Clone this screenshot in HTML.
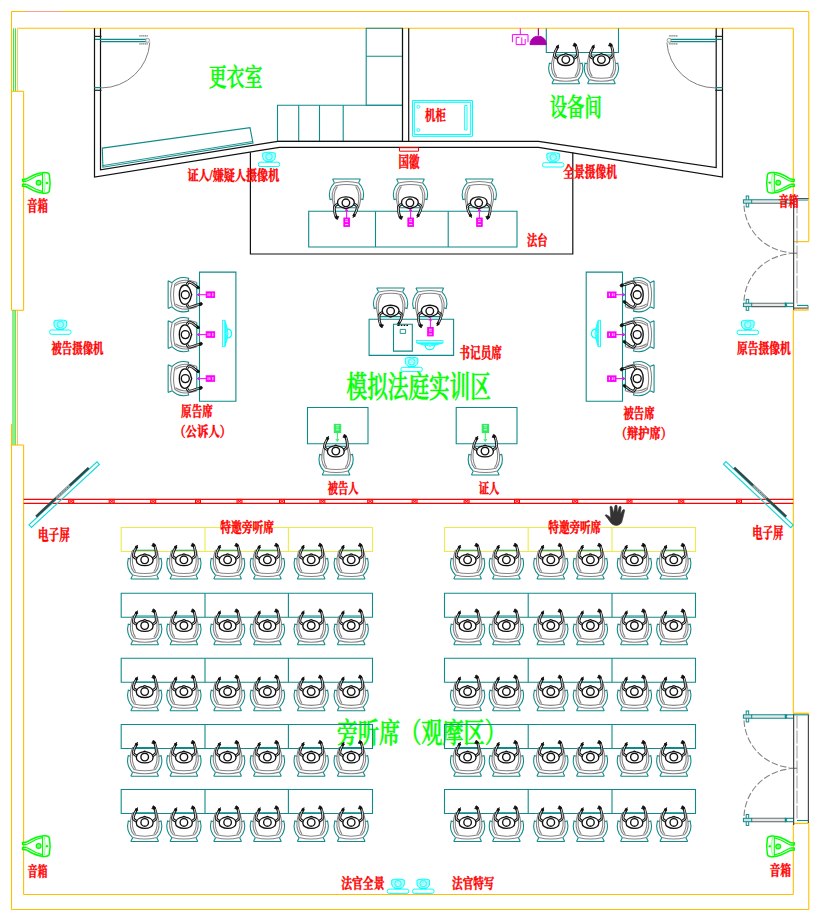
<!DOCTYPE html>
<html><head><meta charset="utf-8"><title>模拟法庭平面图</title>
<style>html,body{margin:0;padding:0;background:#fff;font-family:"Liberation Sans",sans-serif}body{width:820px;height:920px;overflow:hidden}
.tb{font-family:"Liberation Serif","Noto Serif CJK SC",serif;font-weight:bold;fill:#FF0000;stroke:#FF0000;stroke-width:0.4;stroke-linejoin:round}
.tm{font-family:"Liberation Serif","Noto Serif CJK SC",serif;font-weight:500;fill:#00FF00;stroke:#00FF00;stroke-width:0.6;stroke-linejoin:round}</style>
</head><body>
<svg width="820" height="920" viewBox="0 0 820 920" fill="none" style="display:block">
<defs>
<g id="chair" fill="none" stroke-width="1.12" transform="scale(0.965)">
 <path d="M-14.4,15H14.4M-14.4,15L-12.5,11M14.4,15L12.5,11M-12.5,11C-16.5,7 -19,1 -17,-6.3L-14.2,-5.6M12.5,11C16.5,7 19,1 17,-6.3L14.2,-5.6M-12.6,-14.7H12.6" stroke="#0F8A8A"/>
 <path d="M-12.4,10.8Q0,14 12.4,10.8M-11.2,8Q0,10.8 11.2,8M-11,8.2C-15.6,3 -15.6,-5 -13.4,-12.5L-12.6,-14.7M11,8.2C15.6,3 15.6,-5 13.4,-12.5L12.6,-14.7M-9.5,7.4C-13.3,2 -13.3,-6 -11.8,-12.5M9.5,7.4C13.3,2 13.3,-6 11.8,-12.5" stroke="#858585" stroke-width="1.1"/>
</g>
<g id="body" fill="none" stroke="#111" stroke-width="1.35">
 <path d="M-8.4,0.5C-8.4,-2.4 -5.2,-4.6 -1.8,-5.2L0,-5.9L1.8,-5.2C5.2,-4.6 8.4,-2.4 8.4,0.5C8.4,3.9 4.6,5.9 0,5.9C-4.6,5.9 -8.4,3.9 -8.4,0.5Z" fill="#fff"/>
 <circle r="3.8" fill="#fff"/>
</g>
<g id="personA">
 <g fill="none" stroke="#111" stroke-width="2.7" stroke-linecap="round" stroke-linejoin="round">
  <path d="M7.6,-1C9.8,-2 11.6,-3 11.6,-5.2C11.6,-8 11.2,-11 9.9,-14.2"/>
  <path d="M-7.6,-1C-9.6,-1.8 -11.5,-2.6 -11.4,-4.6C-11.1,-7 -10,-9.5 -8.3,-12.4"/>
 </g>
 <g fill="none" stroke="#fff" stroke-width="0.85" stroke-linecap="round" stroke-linejoin="round">
  <path d="M7.6,-1C9.8,-2 11.6,-3 11.6,-5.2C11.6,-8 11.2,-11 10.3,-13.4"/>
  <path d="M-7.6,-1C-9.6,-1.8 -11.5,-2.6 -11.4,-4.6C-11.1,-7 -10,-9.5 -8.8,-11.7"/>
 </g>
 <path d="M8.4,-16.6l1.5,0.7l0.8,1.8l-1,0.3l0.2,0.9l-1.8,-0.7l-1,-0.2l0.7,-1.2z M-7.2,-14.8l-0.7,1l-1.4,0.3l0.6,0.9l-0.7,1l1.5,0l1,-0.7l-0.5,-1z" fill="#111" stroke="#111" stroke-width="0.8" stroke-linejoin="round"/>
 <use href="#body"/>
</g>
<g id="personB">
 <g fill="none" stroke="#111" stroke-width="2.7" stroke-linecap="round" stroke-linejoin="round">
  <path d="M-9.2,-1.4C-11.5,-2.2 -12.9,-3 -12.5,-4.6C-11.8,-6.6 -10.5,-8.6 -9.2,-10L-7.6,-12"/>
  <path d="M9,-1.4C11.5,-2.2 12.9,-3 12.5,-4.6C12,-7 11.2,-9 10.6,-10.5L9.7,-14.4"/>
 </g>
 <g fill="none" stroke="#fff" stroke-width="0.85" stroke-linecap="round" stroke-linejoin="round">
  <path d="M-9.2,-1.4C-11.5,-2.2 -12.9,-3 -12.5,-4.6C-11.8,-6.6 -10.5,-8.6 -9.2,-10L-8.2,-11.2"/>
  <path d="M9,-1.4C11.5,-2.2 12.9,-3 12.5,-4.6C12,-7 11.2,-9 10.6,-10.5L10,-13.4"/>
 </g>
 <path d="M9.2,-17.2l1.3,0.8l0.5,1.5l-0.8,0.8l-1.6,0.1l-0.9,-1.2l0.3,-1.4z M-6.4,-14.2l-1.4,0.2l-0.9,1.2l0.6,1.1l1.5,0.1l0.9,-1.1z" fill="#111" stroke="#111" stroke-width="0.7"/>
 <g fill="none" stroke="#111" stroke-width="1.35">
  <path d="M-9.7,0.4C-9.7,-2.8 -5.6,-5.2 -1.6,-5.8L0,-6.4L1.6,-5.8C5.6,-5.2 9.7,-2.8 9.7,0.4C9.7,3.9 5.2,6 0,6C-5.2,6 -9.7,3.9 -9.7,0.4Z" fill="#fff"/>
  <circle r="4" fill="#fff"/>
 </g>
</g>
<g id="cam" fill="none" stroke="#00FFFF" stroke-width="1">
 <rect x="-10.7" y="-4.5" width="21.4" height="4.3" rx="1.8" fill="#fff"/>
 <path d="M-6.3,-13.5C-3,-14.8 3,-14.8 6.3,-13.5L6.3,-9.6C6.1,-6.6 3.5,-5.2 0,-5.2C-3.5,-5.2 -6.1,-6.6 -6.3,-9.6Z" fill="#B0FFFF"/>
 <circle cx="0" cy="-10" r="3.3" fill="#8FF" stroke-width="0.8" stroke="#3EE"/>
 <path d="M-1.6,-10.8l1.2,1.2M0.8,-11l1.2,0.8M-1,-8.4h2.2" stroke="#fff" stroke-width="0.9"/>
 <path d="M-3.6,-5H3.6" stroke-width="1.1"/>
</g>
<g id="spk" fill="none" stroke="#00FF00" stroke-width="1.5" stroke-linejoin="round" stroke-linecap="round">
 <path d="M0.6,-3.4L4,-3.7C9,-6.2 13,-9.3 20,-10C24,-10.5 27,-10 27.4,-8C28.1,-4 28.1,4 27.4,8C27,10.2 24,10.7 20,10.2C13,9.5 9,6.4 4,3.7L0.6,3.4"/>
 <path d="M0.6,-3.4V-1.5H4M0.6,3.4V1.5H4" stroke-width="1.5"/>
 <path d="M20.5,-9.6V9.8" stroke-width="1.1"/>
 <path d="M5,-1.8C9,-3.5 12,-5.5 14,-6.5L20,-8.4M5,1.8C9,3.5 12,5.5 14,6.5L20,8.6" stroke-width="1.2"/>
 <circle cx="16.6" cy="0" r="2.4" fill="#7F7" stroke-width="1.2"/>
 <circle cx="24.9" cy="0.2" r="0.9" fill="#00FF00" stroke-width="0.8"/>
 <path d="M22.4,-8.6C23.4,-4 23.4,4 22.4,8.8" stroke-width="0.8" stroke="#6F6"/>
</g>
<g id="mic" fill="none" stroke="#FF00FF" stroke-width="1">
 <path d="M0,0.2V9.2M-1.3,2.2L0,0L1.3,2.2" />
 <rect x="-2.7" y="9" width="5.5" height="8.4" fill="#FF00FF"/>
 <path d="M-1.4,10.8H1.4M-1.4,12.6H1.4" stroke="#fff" stroke-width="0.8"/>
 <path d="M-1.6,15.6H1.6" stroke="#fff" stroke-width="0.9"/>
</g>
<g id="micg" fill="none" stroke="#33EE66" stroke-width="1">
 <path d="M0,0V-8.6M-1.4,-2.4L0,0L1.4,-2.4" />
 <rect x="-3.1" y="-17" width="6.4" height="8.2" fill="#2CEB5C" stroke="#2CEB5C"/>
 <path d="M-1.6,-15.6H1.8M-1.6,-11.6H1.8" stroke="#fff" stroke-width="0.8"/>
 <path d="M-1.2,-13.6H1.4" stroke="#bfffd0" stroke-width="0.8"/>
</g>
<g id="mon" fill="none" stroke="#00FFFF" stroke-width="0.9">
 <path d="M-12.8,2.4Q0,8 12.8,2.4Z" fill="#3FF" stroke-width="0.7"/>
 <rect x="-13.2" y="0" width="26.4" height="2.2" fill="#fff"/>
 <path d="M-4.7,4.6C-4.4,7.4 -2.4,9 0,9C2.4,9 4.4,7.4 4.7,4.6" stroke-width="1.2"/>
 <circle cx="0" cy="4.6" r="1.6" fill="#5FF" stroke="none"/>
</g>
</defs>
<rect width="820" height="920" fill="#fff"/>
<path d="M11.5,11.5L808.8,11.5" stroke="#FFBF00" stroke-width="1.1" />
<path d="M25,11.5L62,11.5" stroke="#FF9C8C" stroke-width="1.1" />
<path d="M17.5,28.3L793.3,28.3" stroke="#FFBF00" stroke-width="1.1" />
<path d="M11.5,11.5L11.5,310" stroke="#FFBF00" stroke-width="1.1" />
<path d="M17.6,28.3L17.6,91.3" stroke="#E8D060" stroke-width="1" />
<path d="M13.6,28.3L13.6,91.3" stroke="#30E030" stroke-width="1" />
<path d="M15.6,28.3L15.6,91.3" stroke="#30E030" stroke-width="1" />
<path d="M12,91.3L23.6,91.3" stroke="#FFBF00" stroke-width="1.1" />
<path d="M23.6,91.3L23.6,310.3" stroke="#FFBF00" stroke-width="1.1" />
<path d="M11.5,310.3L23.6,310.3" stroke="#FFBF00" stroke-width="1.1" />
<path d="M13,310.3L13,445" stroke="#30E030" stroke-width="1.1" />
<path d="M15.1,310.3L15.1,445" stroke="#30E030" stroke-width="1.3" />
<path d="M17.4,310.3L17.4,445" stroke="#E8CC60" stroke-width="1.1" />
<path d="M11.5,424L11.5,445" stroke="#FFBF00" stroke-width="1.1" />
<path d="M11.5,445L23.6,445" stroke="#FFBF00" stroke-width="1.1" />
<path d="M11.5,445L11.5,909.5" stroke="#FFBF00" stroke-width="1.1" />
<path d="M23.6,445L23.6,894.5" stroke="#FFBF00" stroke-width="1.1" />
<path d="M23.6,894.5L793.3,894.5" stroke="#FFBF00" stroke-width="1.1" />
<path d="M11.5,909.5L808.8,909.5" stroke="#FFBF00" stroke-width="1.1" />
<path d="M808.8,11.5L808.8,241.6" stroke="#FFBF00" stroke-width="1.1" />
<path d="M793.3,28.3L793.3,198.5" stroke="#FFBF00" stroke-width="1.1" />
<path d="M793.3,241.6L808.8,241.6" stroke="#FFBF00" stroke-width="1.1" />
<path d="M793.3,310L808.8,310" stroke="#FFBF00" stroke-width="1.3" />
<path d="M793.3,310L793.3,713.3" stroke="#FFBF00" stroke-width="1.1" />
<path d="M793.3,713.3L808.8,713.3" stroke="#FFBF00" stroke-width="1.3" />
<path d="M808.8,823.4L808.8,909.5" stroke="#FFBF00" stroke-width="1.1" />
<path d="M808.8,713.3L808.8,716" stroke="#FFBF00" stroke-width="1.1" />
<path d="M793.3,823.4L808.8,823.4" stroke="#FFBF00" stroke-width="1.3" />
<path d="M793.3,823.4L793.3,894.5" stroke="#FFBF00" stroke-width="1.1" />
<path d="M366.2,28.3L402.5,28.3L402.5,105.2L366.2,105.2Z" stroke="#0F8A8A" stroke-width="1.1" />
<path d="M366.2,56.3L402.5,56.3" stroke="#0F8A8A" stroke-width="1.1" />
<path d="M277.5,105.2L402.5,105.2L402.5,141.3L277.5,141.3Z" stroke="#0F8A8A" stroke-width="1.1" />
<path d="M298.7,105.2L298.7,141.3" stroke="#0F8A8A" stroke-width="1.1" />
<path d="M319.5,105.2L319.5,141.3" stroke="#0F8A8A" stroke-width="1.1" />
<path d="M343.2,105.2L343.2,141.3" stroke="#0F8A8A" stroke-width="1.1" />
<path d="M102.3,148.1L250,127.7L253,143.1L102.9,167.2Z" stroke="#0F8A8A" stroke-width="1.1" />
<path d="M102.7,165.6L252.7,141.5" stroke="#0F8A8A" stroke-width="0.9" />
<path d="M94.5,28.3L94.5,177L279.5,147.4L538.5,147.4L722.5,177L722.5,28.3" stroke="#111" stroke-width="1.2" />
<path d="M100.5,28.3L100.5,169.8L277.7,141.4L538.5,141.4L716.2,167.5L716.2,28.3" stroke="#111" stroke-width="1.2" />
<path d="M402.5,28.3L402.5,141.3" stroke="#111" stroke-width="1.2" />
<path d="M408.7,28.3L408.7,141.3" stroke="#111" stroke-width="1.2" />
<path d="M250.4,152.2L250.4,254L572.8,254L572.8,152.6" stroke="#111" stroke-width="1.2" />
<path d="M95,39.45L146.8,39.45" stroke="#0F8A8A" stroke-width="1.2" />
<path d="M100.5,41.6L146.8,41.6" stroke="#0F8A8A" stroke-width="1.1" />
<path d="M139.3,35.9L147.8,35.9M139.3,43.9L147.8,43.9" stroke="#777" stroke-width="1.1" stroke-dasharray="1.4,0.5"/>
<circle cx="147.6" cy="40.4" r="2" stroke="#9a9a9a" stroke-width="0.9" fill="#eef4f4"/>
<path d="M149.8,42.5A48.5,48.5 0 0 1 101.5,87.9" stroke="#808080" stroke-width="1.0" />
<path d="M94.3,36.4L101.5,36.4" stroke="#222" stroke-width="1.2" />
<path d="M94.3,87.6L101.5,87.6" stroke="#0F8A8A" stroke-width="1.2" />
<path d="M94.3,90.3L101.5,90.3" stroke="#222" stroke-width="1.2" />
<path d="M721.7,39.45L669.9,39.45" stroke="#0F8A8A" stroke-width="1.2" />
<path d="M716.2,41.6L669.9,41.6" stroke="#0F8A8A" stroke-width="1.1" />
<path d="M677.4,35.9L668.9,35.9M677.4,43.9L668.9,43.9" stroke="#777" stroke-width="1.1" stroke-dasharray="1.4,0.5"/>
<circle cx="669.1" cy="40.4" r="2" stroke="#9a9a9a" stroke-width="0.9" fill="#eef4f4"/>
<path d="M666.9,42.5A48.5,48.5 0 0 0 715.2,87.9" stroke="#808080" stroke-width="1.0" />
<path d="M715.2,36.4L722.4,36.4" stroke="#222" stroke-width="1.2" />
<path d="M715.2,87.6L722.4,87.6" stroke="#0F8A8A" stroke-width="1.2" />
<path d="M715.2,90.3L722.4,90.3" stroke="#222" stroke-width="1.2" />
<path d="M412.5,100.5L472.5,100.5L472.5,136.3L412.5,136.3Z" stroke="#00FFFF" stroke-width="1.0" />
<path d="M414.3,102.3L470.7,102.3L470.7,134.5L414.3,134.5Z" stroke="#00FFFF" stroke-width="1.0" />
<path d="M464.6,105.5L467,105.5L467,130L464.6,130Z" stroke="#00FFFF" stroke-width="0.9" />
<circle cx="418.3" cy="106.8" r="1.5" stroke="#00FFFF" stroke-width="0.9"/>
<circle cx="418.3" cy="130" r="1.5" stroke="#00FFFF" stroke-width="0.9"/>
<text class="tb" x="425.12" y="120.23" font-size="13.79" textLength="20.72" lengthAdjust="spacingAndGlyphs">机柜</text>
<path d="M399.5,147.7L418.5,147.7L418.5,151.2L399.5,151.2Z" stroke="#FF0000" stroke-width="1.0" />
<text class="tb" x="398.53" y="167.17" font-size="14.54" textLength="20.96" lengthAdjust="spacingAndGlyphs">国徽</text>
<path d="M546.3,28.3L546.3,52.5L618.5,52.5L618.5,28.3" stroke="#0F8A8A" stroke-width="1.1" />
<use href="#chair" transform="translate(565.8,69.2)" />
<use href="#personA" transform="translate(565.8,59.6)" />
<use href="#chair" transform="translate(601.4,69.2)" />
<use href="#personA" transform="translate(601.4,59.6)" />
<path d="M520.3,28.3V34.6M512.4,42.2V34.6H528V42.2M516.2,37.4V44.6H525.2M521.8,37.4V44.6M516.2,37.4H519.5M525.2,39V44.6" stroke="#FF00FF" stroke-width="1.0" />
<path d="M538.4,28.3V35.6" stroke="#AA00AA" stroke-width="1.2" />
<path d="M530,44.6C530.3,39 534,36.2 538.2,36.2C542.5,36.2 546,39 546.3,44.6Z" stroke="#AA00AA" stroke-width="1" fill="#AA00AA"/>
<text class="tm" x="549.65" y="116.36" font-size="24.69" textLength="52.17" lengthAdjust="spacingAndGlyphs">设备间</text>
<text class="tm" x="208.65" y="86.44" font-size="24.48" textLength="53.76" lengthAdjust="spacingAndGlyphs">更衣室</text>
<use href="#cam" transform="translate(269,166.7)" />
<text class="tb" x="187.44" y="180.14" font-size="13.78" textLength="91.81" lengthAdjust="spacingAndGlyphs">证人/嫌疑人摄像机</text>
<use href="#cam" transform="translate(553.2,167.2)" />
<text class="tb" x="563.35" y="176.96" font-size="14.37" textLength="53.5" lengthAdjust="spacingAndGlyphs">全景摄像机</text>
<path d="M308.7,211.3L517,211.3L517,247L308.7,247Z" stroke="#0F8A8A" stroke-width="1.1" />
<path d="M375.5,211.3L375.5,247" stroke="#0F8A8A" stroke-width="1.1" />
<path d="M448.2,211.3L448.2,247" stroke="#0F8A8A" stroke-width="1.1" />
<use href="#chair" transform="translate(346.5,193.5) rotate(180)" />
<use href="#personA" transform="translate(345.9,202.8) rotate(180)" />
<use href="#mic" transform="translate(346.6,209)" />
<use href="#chair" transform="translate(410.5,193.5) rotate(180)" />
<use href="#personA" transform="translate(409.9,202.8) rotate(180)" />
<use href="#mic" transform="translate(410.6,209)" />
<use href="#chair" transform="translate(479.3,193.5) rotate(180)" />
<use href="#personA" transform="translate(478.7,202.8) scale(1,-1)"/>
<use href="#mic" transform="translate(479.4,209)" />
<text class="tb" x="527.06" y="244.56" font-size="13.81" textLength="20.48" lengthAdjust="spacingAndGlyphs">法台</text>
<path d="M199.5,272.1L235.9,272.1L235.9,401.2L199.5,401.2Z" stroke="#0F8A8A" stroke-width="1.1" />
<use href="#chair" transform="translate(182.6,294.7) rotate(90)" />
<use href="#personB" transform="translate(185.3,294.7) rotate(90)" />
<use href="#mic" transform="translate(197.2,294.7) rotate(-90)" />
<use href="#chair" transform="translate(182.6,334.6) rotate(90)" />
<use href="#personB" transform="translate(185.3,334.6) rotate(90)" />
<use href="#mic" transform="translate(197.2,334.6) rotate(-90)" />
<use href="#chair" transform="translate(182.6,378.6) rotate(90)" />
<use href="#personB" transform="translate(185.3,378.6) rotate(90)" />
<use href="#mic" transform="translate(197.2,378.6) rotate(-90)" />
<use href="#mon" transform="translate(222.6,333.5) rotate(-90)" />
<text class="tb" x="181.09" y="415.85" font-size="13.79" textLength="31.65" lengthAdjust="spacingAndGlyphs">原告席</text>
<text class="tb" x="174.19" y="435.65" font-size="13.99" textLength="57" lengthAdjust="spacingAndGlyphs">（公诉人）</text>
<path d="M586.2,272.1L622.5,272.1L622.5,401.2L586.2,401.2Z" stroke="#0F8A8A" stroke-width="1.1" />
<use href="#chair" transform="translate(639.6,294.7) rotate(-90)" />
<use href="#personB" transform="translate(637.2,294.7) rotate(-90)" />
<use href="#mic" transform="translate(625,294.7) rotate(90)" />
<use href="#chair" transform="translate(639.6,334.6) rotate(-90)" />
<use href="#personB" transform="translate(637.2,334.6) rotate(-90)" />
<use href="#mic" transform="translate(625,334.6) rotate(90)" />
<use href="#chair" transform="translate(639.6,378.6) rotate(-90)" />
<use href="#personB" transform="translate(637.2,378.6) rotate(-90)" />
<use href="#mic" transform="translate(625,378.6) rotate(90)" />
<use href="#mon" transform="translate(600.5,333.5) rotate(90)" />
<text class="tb" x="623.42" y="418.12" font-size="13.99" textLength="31.14" lengthAdjust="spacingAndGlyphs">被告席</text>
<text class="tb" x="615.78" y="437.62" font-size="13.92" textLength="56.25" lengthAdjust="spacingAndGlyphs">（辩护席）</text>
<path d="M369.1,319.2L453.6,319.2L453.6,355.4L369.1,355.4Z" stroke="#0F8A8A" stroke-width="1.1" />
<use href="#chair" transform="translate(390.6,302.4) rotate(180)" />
<use href="#personA" transform="translate(390.6,311.1) rotate(180)" />
<use href="#chair" transform="translate(429.8,302.4) rotate(180)" />
<use href="#personA" transform="translate(429.8,311.1) rotate(180)" />
<use href="#mic" transform="translate(430.4,318.5)" />
<path d="M393.5,324.3L412.3,324.3L412.3,351.1L393.5,351.1Z" stroke="#0F8A8A" stroke-width="1.1" />
<path d="M400.2,329.4L405.6,329.4L405.6,333.4L400.2,333.4Z" stroke="#0F8A8A" stroke-width="0.9" />
<path d="M398,325.4H408" stroke="#111" stroke-width="1.4" stroke-dasharray="1.6,1.2"/>
<use href="#mon" transform="translate(429.8,340.6)" />
<use href="#cam" transform="translate(411.6,371.8)" />
<text class="tb" x="459.33" y="357.8" font-size="14.3" textLength="42.6" lengthAdjust="spacingAndGlyphs">书记员席</text>
<text class="tm" x="346.61" y="397.01" font-size="29.31" textLength="144.13" lengthAdjust="spacingAndGlyphs">模拟法庭实训区</text>
<use href="#cam" transform="translate(60.3,334.5)" />
<text class="tb" x="51.42" y="352.74" font-size="13.78" textLength="52.1" lengthAdjust="spacingAndGlyphs">被告摄像机</text>
<use href="#cam" transform="translate(747.8,334.7)" />
<text class="tb" x="737.1" y="352.74" font-size="13.78" textLength="53.75" lengthAdjust="spacingAndGlyphs">原告摄像机</text>
<path d="M307.5,407.5L368,407.5L368,443.7L307.5,443.7Z" stroke="#0F8A8A" stroke-width="1.1" />
<use href="#chair" transform="translate(336.1,460.5)" />
<use href="#personA" transform="translate(335.8,451)" />
<use href="#micg" transform="translate(337.4,441.4)" />
<text class="tb" x="327.72" y="493.25" font-size="13.79" textLength="30.87" lengthAdjust="spacingAndGlyphs">被告人</text>
<path d="M456.2,407.5L517,407.5L517,443.7L456.2,443.7Z" stroke="#0F8A8A" stroke-width="1.1" />
<use href="#chair" transform="translate(485.3,460.5)" />
<use href="#personA" transform="translate(485,451)" />
<use href="#micg" transform="translate(485.3,441.4)" />
<text class="tb" x="478.83" y="493.26" font-size="14" textLength="20.56" lengthAdjust="spacingAndGlyphs">证人</text>
<path d="M23.6,499.4L793.3,499.4" stroke="#FF0000" stroke-width="1.15" />
<path d="M23.6,503.4L793.3,503.4" stroke="#FF0000" stroke-width="1.15" />
<path d="M68.7,499.4L73.7,499.4L73.7,503.4L68.7,503.4Z" stroke="#FF0000" stroke-width="1.0" fill="#FFB0B0"/>
<path d="M68.8,499.4L73.6,503.4M73.6,499.4L68.8,503.4" stroke="#FF0000" stroke-width="0.9" />
<path d="M109.2,499.4L114.2,499.4L114.2,503.4L109.2,503.4Z" stroke="#FF0000" stroke-width="1.0" fill="#FFB0B0"/>
<path d="M109.3,499.4L114.1,503.4M114.1,499.4L109.3,503.4" stroke="#FF0000" stroke-width="0.9" />
<path d="M150.7,499.4L155.7,499.4L155.7,503.4L150.7,503.4Z" stroke="#FF0000" stroke-width="1.0" fill="#FFB0B0"/>
<path d="M150.8,499.4L155.6,503.4M155.6,499.4L150.8,503.4" stroke="#FF0000" stroke-width="0.9" />
<path d="M195.5,499.4L200.5,499.4L200.5,503.4L195.5,503.4Z" stroke="#FF0000" stroke-width="1.0" fill="#FFB0B0"/>
<path d="M195.6,499.4L200.4,503.4M200.4,499.4L195.6,503.4" stroke="#FF0000" stroke-width="0.9" />
<path d="M237,499.4L242,499.4L242,503.4L237,503.4Z" stroke="#FF0000" stroke-width="1.0" fill="#FFB0B0"/>
<path d="M237.1,499.4L241.9,503.4M241.9,499.4L237.1,503.4" stroke="#FF0000" stroke-width="0.9" />
<path d="M279.5,499.4L284.5,499.4L284.5,503.4L279.5,503.4Z" stroke="#FF0000" stroke-width="1.0" fill="#FFB0B0"/>
<path d="M279.6,499.4L284.4,503.4M284.4,499.4L279.6,503.4" stroke="#FF0000" stroke-width="0.9" />
<path d="M319.9,499.4L324.9,499.4L324.9,503.4L319.9,503.4Z" stroke="#FF0000" stroke-width="1.0" fill="#FFB0B0"/>
<path d="M320,499.4L324.8,503.4M324.8,499.4L320,503.4" stroke="#FF0000" stroke-width="0.9" />
<path d="M367.7,499.4L372.7,499.4L372.7,503.4L367.7,503.4Z" stroke="#FF0000" stroke-width="1.0" fill="#FFB0B0"/>
<path d="M367.8,499.4L372.6,503.4M372.6,499.4L367.8,503.4" stroke="#FF0000" stroke-width="0.9" />
<path d="M412.1,499.4L417.1,499.4L417.1,503.4L412.1,503.4Z" stroke="#FF0000" stroke-width="1.0" fill="#FFB0B0"/>
<path d="M412.2,499.4L417,503.4M417,499.4L412.2,503.4" stroke="#FF0000" stroke-width="0.9" />
<path d="M464.1,499.4L469.1,499.4L469.1,503.4L464.1,503.4Z" stroke="#FF0000" stroke-width="1.0" fill="#FFB0B0"/>
<path d="M464.2,499.4L469,503.4M469,499.4L464.2,503.4" stroke="#FF0000" stroke-width="0.9" />
<path d="M514.5,499.4L519.5,499.4L519.5,503.4L514.5,503.4Z" stroke="#FF0000" stroke-width="1.0" fill="#FFB0B0"/>
<path d="M514.6,499.4L519.4,503.4M519.4,499.4L514.6,503.4" stroke="#FF0000" stroke-width="0.9" />
<path d="M572.7,499.4L577.7,499.4L577.7,503.4L572.7,503.4Z" stroke="#FF0000" stroke-width="1.0" fill="#FFB0B0"/>
<path d="M572.8,499.4L577.6,503.4M577.6,499.4L572.8,503.4" stroke="#FF0000" stroke-width="0.9" />
<path d="M627,499.4L632,499.4L632,503.4L627,503.4Z" stroke="#FF0000" stroke-width="1.0" fill="#FFB0B0"/>
<path d="M627.1,499.4L631.9,503.4M631.9,499.4L627.1,503.4" stroke="#FF0000" stroke-width="0.9" />
<path d="M678.8,499.4L683.8,499.4L683.8,503.4L678.8,503.4Z" stroke="#FF0000" stroke-width="1.0" fill="#FFB0B0"/>
<path d="M678.9,499.4L683.7,503.4M683.7,499.4L678.9,503.4" stroke="#FF0000" stroke-width="0.9" />
<path d="M736.5,499.4L741.5,499.4L741.5,503.4L736.5,503.4Z" stroke="#FF0000" stroke-width="1.0" fill="#FFB0B0"/>
<path d="M736.6,499.4L741.4,503.4M741.4,499.4L736.6,503.4" stroke="#FF0000" stroke-width="0.9" />
<path d="M96.98,461.88L99.42,464.52L31.42,527.42L28.98,524.78Z" stroke="#19D6D6" stroke-width="1.15" />
<path d="M88.68,467.92L36.09,516.56" stroke="#2F4848" stroke-width="2.5" />
<path d="M69.74,485.43L56.07,498.08" stroke="#a8b2b2" stroke-width="2.5" />
<path d="M69.74,485.43L56.07,498.08" stroke="#4a5a5a" stroke-width="1.0" stroke-dasharray="1.2,1.2"/>
<path d="M723.47,464.21L725.93,461.59L793.23,524.99L790.77,527.61Z" stroke="#19D6D6" stroke-width="1.15" />
<path d="M734.18,467.71L786.2,516.71" stroke="#2F4848" stroke-width="2.5" />
<path d="M752.91,485.35L766.43,498.09" stroke="#a8b2b2" stroke-width="2.5" />
<path d="M752.91,485.35L766.43,498.09" stroke="#4a5a5a" stroke-width="1.0" stroke-dasharray="1.2,1.2"/>
<text class="tb" x="37.94" y="539.86" font-size="14.51" textLength="31.95" lengthAdjust="spacingAndGlyphs">电子屏</text>
<text class="tb" x="752.16" y="537.64" font-size="14.61" textLength="31.35" lengthAdjust="spacingAndGlyphs">电子屏</text>
<text class="tm" x="336.85" y="742.95" font-size="28" textLength="169.04" lengthAdjust="spacingAndGlyphs">旁听席（观摩区）</text>
<path d="M121.2,527.5L372.5,527.5L372.5,551.5L121.2,551.5Z" stroke="#ECEC48" stroke-width="1.1" />
<path d="M205,527.5L205,551.5" stroke="#ECEC48" stroke-width="1.1" />
<path d="M288.4,527.5L288.4,551.5" stroke="#ECEC48" stroke-width="1.1" />
<path d="M444.5,527.5L695.5,527.5L695.5,551.5L444.5,551.5Z" stroke="#ECEC48" stroke-width="1.1" />
<path d="M528.2,527.5L528.2,551.5" stroke="#ECEC48" stroke-width="1.1" />
<path d="M612,527.5L612,551.5" stroke="#ECEC48" stroke-width="1.1" />
<use href="#chair" transform="translate(144.7,564.5)" />
<use href="#personA" transform="translate(144.7,559.8)" />
<use href="#chair" transform="translate(183.9,564.5)" />
<use href="#personA" transform="translate(183.9,559.8)" />
<use href="#chair" transform="translate(227.6,564.5)" />
<use href="#personA" transform="translate(227.6,559.8)" />
<use href="#chair" transform="translate(267.4,564.5)" />
<use href="#personA" transform="translate(267.4,559.8)" />
<use href="#chair" transform="translate(311.2,564.5)" />
<use href="#personA" transform="translate(311.2,559.8)" />
<use href="#chair" transform="translate(351.2,564.5)" />
<use href="#personA" transform="translate(351.2,559.8)" />
<use href="#chair" transform="translate(467.6,564.5)" />
<use href="#personA" transform="translate(467.6,559.8)" />
<use href="#chair" transform="translate(506.4,564.5)" />
<use href="#personA" transform="translate(506.4,559.8)" />
<use href="#chair" transform="translate(550.8,564.5)" />
<use href="#personA" transform="translate(550.8,559.8)" />
<use href="#chair" transform="translate(590.4,564.5)" />
<use href="#personA" transform="translate(590.4,559.8)" />
<use href="#chair" transform="translate(634.4,564.5)" />
<use href="#personA" transform="translate(634.4,559.8)" />
<use href="#chair" transform="translate(673.8,564.5)" />
<use href="#personA" transform="translate(673.8,559.8)" />
<path d="M121.2,593.2L372.5,593.2L372.5,617.2L121.2,617.2Z" stroke="#0F8A8A" stroke-width="1.1" />
<path d="M205,593.2L205,617.2" stroke="#0F8A8A" stroke-width="1.1" />
<path d="M288.4,593.2L288.4,617.2" stroke="#0F8A8A" stroke-width="1.1" />
<path d="M444.5,593.2L695.5,593.2L695.5,617.2L444.5,617.2Z" stroke="#0F8A8A" stroke-width="1.1" />
<path d="M528.2,593.2L528.2,617.2" stroke="#0F8A8A" stroke-width="1.1" />
<path d="M612,593.2L612,617.2" stroke="#0F8A8A" stroke-width="1.1" />
<use href="#chair" transform="translate(144.7,630.2)" />
<use href="#personA" transform="translate(144.7,625.5)" />
<use href="#chair" transform="translate(183.9,630.2)" />
<use href="#personA" transform="translate(183.9,625.5)" />
<use href="#chair" transform="translate(227.6,630.2)" />
<use href="#personA" transform="translate(227.6,625.5)" />
<use href="#chair" transform="translate(267.4,630.2)" />
<use href="#personA" transform="translate(267.4,625.5)" />
<use href="#chair" transform="translate(311.2,630.2)" />
<use href="#personA" transform="translate(311.2,625.5)" />
<use href="#chair" transform="translate(351.2,630.2)" />
<use href="#personA" transform="translate(351.2,625.5)" />
<use href="#chair" transform="translate(467.6,630.2)" />
<use href="#personA" transform="translate(467.6,625.5)" />
<use href="#chair" transform="translate(506.4,630.2)" />
<use href="#personA" transform="translate(506.4,625.5)" />
<use href="#chair" transform="translate(550.8,630.2)" />
<use href="#personA" transform="translate(550.8,625.5)" />
<use href="#chair" transform="translate(590.4,630.2)" />
<use href="#personA" transform="translate(590.4,625.5)" />
<use href="#chair" transform="translate(634.4,630.2)" />
<use href="#personA" transform="translate(634.4,625.5)" />
<use href="#chair" transform="translate(673.8,630.2)" />
<use href="#personA" transform="translate(673.8,625.5)" />
<path d="M121.2,658.3L372.5,658.3L372.5,682.3L121.2,682.3Z" stroke="#0F8A8A" stroke-width="1.1" />
<path d="M205,658.3L205,682.3" stroke="#0F8A8A" stroke-width="1.1" />
<path d="M288.4,658.3L288.4,682.3" stroke="#0F8A8A" stroke-width="1.1" />
<path d="M444.5,658.3L695.5,658.3L695.5,682.3L444.5,682.3Z" stroke="#0F8A8A" stroke-width="1.1" />
<path d="M528.2,658.3L528.2,682.3" stroke="#0F8A8A" stroke-width="1.1" />
<path d="M612,658.3L612,682.3" stroke="#0F8A8A" stroke-width="1.1" />
<use href="#chair" transform="translate(144.7,696.3)" />
<use href="#personA" transform="translate(144.7,691.6)" />
<use href="#chair" transform="translate(183.9,696.3)" />
<use href="#personA" transform="translate(183.9,691.6)" />
<use href="#chair" transform="translate(227.6,696.3)" />
<use href="#personA" transform="translate(227.6,691.6)" />
<use href="#chair" transform="translate(267.4,696.3)" />
<use href="#personA" transform="translate(267.4,691.6)" />
<use href="#chair" transform="translate(311.2,696.3)" />
<use href="#personA" transform="translate(311.2,691.6)" />
<use href="#chair" transform="translate(351.2,696.3)" />
<use href="#personA" transform="translate(351.2,691.6)" />
<use href="#chair" transform="translate(467.6,696.3)" />
<use href="#personA" transform="translate(467.6,691.6)" />
<use href="#chair" transform="translate(506.4,696.3)" />
<use href="#personA" transform="translate(506.4,691.6)" />
<use href="#chair" transform="translate(550.8,696.3)" />
<use href="#personA" transform="translate(550.8,691.6)" />
<use href="#chair" transform="translate(590.4,696.3)" />
<use href="#personA" transform="translate(590.4,691.6)" />
<use href="#chair" transform="translate(634.4,696.3)" />
<use href="#personA" transform="translate(634.4,691.6)" />
<use href="#chair" transform="translate(673.8,696.3)" />
<use href="#personA" transform="translate(673.8,691.6)" />
<path d="M121.2,724.5L372.5,724.5L372.5,748.5L121.2,748.5Z" stroke="#0F8A8A" stroke-width="1.1" />
<path d="M205,724.5L205,748.5" stroke="#0F8A8A" stroke-width="1.1" />
<path d="M288.4,724.5L288.4,748.5" stroke="#0F8A8A" stroke-width="1.1" />
<path d="M444.5,724.5L695.5,724.5L695.5,748.5L444.5,748.5Z" stroke="#0F8A8A" stroke-width="1.1" />
<path d="M528.2,724.5L528.2,748.5" stroke="#0F8A8A" stroke-width="1.1" />
<path d="M612,724.5L612,748.5" stroke="#0F8A8A" stroke-width="1.1" />
<use href="#chair" transform="translate(144.7,761.7)" />
<use href="#personA" transform="translate(144.7,757)" />
<use href="#chair" transform="translate(183.9,761.7)" />
<use href="#personA" transform="translate(183.9,757)" />
<use href="#chair" transform="translate(227.6,761.7)" />
<use href="#personA" transform="translate(227.6,757)" />
<use href="#chair" transform="translate(267.4,761.7)" />
<use href="#personA" transform="translate(267.4,757)" />
<use href="#chair" transform="translate(311.2,761.7)" />
<use href="#personA" transform="translate(311.2,757)" />
<use href="#chair" transform="translate(351.2,761.7)" />
<use href="#personA" transform="translate(351.2,757)" />
<use href="#chair" transform="translate(467.6,761.7)" />
<use href="#personA" transform="translate(467.6,757)" />
<use href="#chair" transform="translate(506.4,761.7)" />
<use href="#personA" transform="translate(506.4,757)" />
<use href="#chair" transform="translate(550.8,761.7)" />
<use href="#personA" transform="translate(550.8,757)" />
<use href="#chair" transform="translate(590.4,761.7)" />
<use href="#personA" transform="translate(590.4,757)" />
<use href="#chair" transform="translate(634.4,761.7)" />
<use href="#personA" transform="translate(634.4,757)" />
<use href="#chair" transform="translate(673.8,761.7)" />
<use href="#personA" transform="translate(673.8,757)" />
<path d="M121.2,789.5L372.5,789.5L372.5,813.5L121.2,813.5Z" stroke="#0F8A8A" stroke-width="1.1" />
<path d="M205,789.5L205,813.5" stroke="#0F8A8A" stroke-width="1.1" />
<path d="M288.4,789.5L288.4,813.5" stroke="#0F8A8A" stroke-width="1.1" />
<path d="M444.5,789.5L695.5,789.5L695.5,813.5L444.5,813.5Z" stroke="#0F8A8A" stroke-width="1.1" />
<path d="M528.2,789.5L528.2,813.5" stroke="#0F8A8A" stroke-width="1.1" />
<path d="M612,789.5L612,813.5" stroke="#0F8A8A" stroke-width="1.1" />
<use href="#chair" transform="translate(144.7,827.1)" />
<use href="#personA" transform="translate(144.7,822.4)" />
<use href="#chair" transform="translate(183.9,827.1)" />
<use href="#personA" transform="translate(183.9,822.4)" />
<use href="#chair" transform="translate(227.6,827.1)" />
<use href="#personA" transform="translate(227.6,822.4)" />
<use href="#chair" transform="translate(267.4,827.1)" />
<use href="#personA" transform="translate(267.4,822.4)" />
<use href="#chair" transform="translate(311.2,827.1)" />
<use href="#personA" transform="translate(311.2,822.4)" />
<use href="#chair" transform="translate(351.2,827.1)" />
<use href="#personA" transform="translate(351.2,822.4)" />
<use href="#chair" transform="translate(467.6,827.1)" />
<use href="#personA" transform="translate(467.6,822.4)" />
<use href="#chair" transform="translate(506.4,827.1)" />
<use href="#personA" transform="translate(506.4,822.4)" />
<use href="#chair" transform="translate(550.8,827.1)" />
<use href="#personA" transform="translate(550.8,822.4)" />
<use href="#chair" transform="translate(590.4,827.1)" />
<use href="#personA" transform="translate(590.4,822.4)" />
<use href="#chair" transform="translate(634.4,827.1)" />
<use href="#personA" transform="translate(634.4,822.4)" />
<use href="#chair" transform="translate(673.8,827.1)" />
<use href="#personA" transform="translate(673.8,822.4)" />
<text class="tb" x="220.23" y="531.96" font-size="14.03" textLength="53.8" lengthAdjust="spacingAndGlyphs">特邀旁听席</text>
<text class="tb" x="548.33" y="531.87" font-size="13.93" textLength="52.8" lengthAdjust="spacingAndGlyphs">特邀旁听席</text>
<text class="tb" x="341.26" y="888.26" font-size="13.82" textLength="43.24" lengthAdjust="spacingAndGlyphs">法官全景</text>
<use href="#cam" transform="translate(398,893.6)" />
<use href="#cam" transform="translate(423.3,893.6)" />
<text class="tb" x="452.06" y="888.24" font-size="13.82" textLength="42.36" lengthAdjust="spacingAndGlyphs">法官特写</text>
<rect x="751.5" y="199.8" width="33.6" height="3.4" fill="#e6eaea"/>
<path d="M751.5,199.8L785.1,199.8" stroke="#0F8A8A" stroke-width="1.05" />
<path d="M751.5,203.2L785.1,203.2" stroke="#5a6060" stroke-width="1.05" />
<path d="M785.1,199.8L793.6,199.8" stroke="#0F8A8A" stroke-width="1.1" />
<path d="M785.1,203.2L793.6,203.2" stroke="#0F8A8A" stroke-width="1.1" />
<path d="M785.4,199.2V203.8M787,199.9L785.8,201.5L787,203.1" stroke="#0F8A8A" stroke-width="1.3" />
<rect x="746.2" y="196" width="2.5" height="10.9" fill="#fff" stroke="#0F8A8A" stroke-width="1"/>
<rect x="743.4" y="199.8" width="8.3" height="3.4" fill="#d8e0e0" stroke="#0F8A8A" stroke-width="1"/>
<rect x="751.5" y="303.2" width="33.6" height="3.4" fill="#e6eaea"/>
<path d="M751.5,303.2L785.1,303.2" stroke="#6a7070" stroke-width="1.05" />
<path d="M751.5,306.6L785.1,306.6" stroke="#5a6060" stroke-width="1.05" />
<path d="M785.1,303.2L793.6,303.2" stroke="#0F8A8A" stroke-width="1.1" />
<path d="M785.1,306.6L793.6,306.6" stroke="#0F8A8A" stroke-width="1.1" />
<path d="M785.4,302.6V307.2M787,303.3L785.8,304.9L787,306.5" stroke="#0F8A8A" stroke-width="1.3" />
<rect x="746.2" y="299.4" width="2.5" height="10.9" fill="#fff" stroke="#0F8A8A" stroke-width="1"/>
<rect x="743.4" y="303.2" width="8.3" height="3.4" fill="#d8e0e0" stroke="#0F8A8A" stroke-width="1"/>
<path d="M744,205.5A49.7,49.7 0 0 0 789.1,252.4" stroke="#858585" stroke-width="1.1" stroke-dasharray="6.5,2.3"/>
<path d="M744,300.9A49.7,49.7 0 0 1 789.1,254" stroke="#858585" stroke-width="1.1" stroke-dasharray="6.5,2.3"/>
<path d="M789.1,253.2L797.1,253.2" stroke="#555" stroke-width="0.9" />
<path d="M793.6,198.9L793.6,309.9" stroke="#4a4a4a" stroke-width="1.25" />
<path d="M797,200.5L797,305.3" stroke="#8a8a8a" stroke-width="0.85" stroke-dasharray="13,2"/>
<path d="M793.6,198.6L808.6,198.6" stroke="#4a4a4a" stroke-width="1.1" />
<path d="M793.6,200.1L808,200.1" stroke="#0F8A8A" stroke-width="0.9" />
<path d="M797,305.4L808,305.4" stroke="#0F8A8A" stroke-width="1.1" />
<path d="M808,305.4L808,307.5" stroke="#0F8A8A" stroke-width="1.0" />
<path d="M793.6,308.1L808.6,308.1" stroke="#4a4a4a" stroke-width="1.1" />
<rect x="751.5" y="714.8" width="33.6" height="3.4" fill="#e6eaea"/>
<path d="M751.5,714.8L785.1,714.8" stroke="#0F8A8A" stroke-width="1.05" />
<path d="M751.5,718.2L785.1,718.2" stroke="#0F8A8A" stroke-width="1.05" />
<path d="M785.1,714.8L793.6,714.8" stroke="#0F8A8A" stroke-width="1.1" />
<path d="M785.1,718.2L793.6,718.2" stroke="#0F8A8A" stroke-width="1.1" />
<path d="M785.4,714.2V718.8M787,714.9L785.8,716.5L787,718.1" stroke="#0F8A8A" stroke-width="1.3" />
<rect x="746.2" y="711" width="2.5" height="10.9" fill="#fff" stroke="#0F8A8A" stroke-width="1"/>
<rect x="743.4" y="714.8" width="8.3" height="3.4" fill="#d8e0e0" stroke="#0F8A8A" stroke-width="1"/>
<rect x="751.5" y="818.3" width="33.6" height="3.4" fill="#e6eaea"/>
<path d="M751.5,818.3L785.1,818.3" stroke="#6a7070" stroke-width="1.05" />
<path d="M751.5,821.7L785.1,821.7" stroke="#5a6060" stroke-width="1.05" />
<path d="M785.1,818.3L793.6,818.3" stroke="#0F8A8A" stroke-width="1.1" />
<path d="M785.1,821.7L793.6,821.7" stroke="#0F8A8A" stroke-width="1.1" />
<path d="M785.4,817.7V822.3M787,818.4L785.8,820L787,821.6" stroke="#0F8A8A" stroke-width="1.3" />
<rect x="746.2" y="814.5" width="2.5" height="10.9" fill="#fff" stroke="#0F8A8A" stroke-width="1"/>
<rect x="743.4" y="818.3" width="8.3" height="3.4" fill="#d8e0e0" stroke="#0F8A8A" stroke-width="1"/>
<path d="M744,720.5A49.7,49.7 0 0 0 789.1,767.45" stroke="#858585" stroke-width="1.1" stroke-dasharray="6.5,2.3"/>
<path d="M744,816A49.7,49.7 0 0 1 789.1,769.05" stroke="#858585" stroke-width="1.1" stroke-dasharray="6.5,2.3"/>
<path d="M789.1,768.25L797.1,768.25" stroke="#555" stroke-width="0.9" />
<path d="M793.6,713.9L793.6,825" stroke="#4a4a4a" stroke-width="1.25" />
<path d="M797,715.5L797,820.4" stroke="#8a8a8a" stroke-width="0.85" stroke-dasharray="13,2"/>
<path d="M793.6,714.8L808.4,714.8" stroke="#0F8A8A" stroke-width="1.1" />
<path d="M797,820.5L808.4,820.5" stroke="#0F8A8A" stroke-width="1.1" />
<path d="M808.4,714.8L808.4,823" stroke="#4a4a4a" stroke-width="1.2" />
<use href="#spk" transform="translate(22,182.8)" />
<text class="tb" x="27.12" y="211.21" font-size="14.3" textLength="20.82" lengthAdjust="spacingAndGlyphs">音箱</text>
<use href="#spk" transform="translate(22,846)" />
<text class="tb" x="27.42" y="875.8" font-size="13.61" textLength="20.02" lengthAdjust="spacingAndGlyphs">音箱</text>
<use href="#spk" transform="translate(794.8,182.8) rotate(180)" />
<text class="tb" x="778.62" y="206.27" font-size="13.81" textLength="20.02" lengthAdjust="spacingAndGlyphs">音箱</text>
<use href="#spk" transform="translate(794.8,846.5) rotate(180)" />
<text class="tb" x="769.41" y="875.27" font-size="13.81" textLength="21.52" lengthAdjust="spacingAndGlyphs">音箱</text>
<path d="M605,515.2L606.5,514.8C608.5,515.8 609.8,517 610.8,518L610,507C610,505.9 611.9,505.9 612.1,507L613.6,513L614.9,506C615,504.8 617,504.8 617.1,506L617.3,513L619.2,507C619.5,505.9 621.2,506.1 621.1,507.2L620.6,514L622.8,510C623.4,509 624.9,509.5 624.6,510.6C623.8,514 623,518 621.6,522.5C620,525 617.5,525.5 616,525.4C613.5,525.3 611.5,524 610.2,522C608.6,519.5 606.5,516.8 605,515.2Z" stroke="#333" stroke-width="0.6" fill="#333"/>
</svg>
</body></html>
